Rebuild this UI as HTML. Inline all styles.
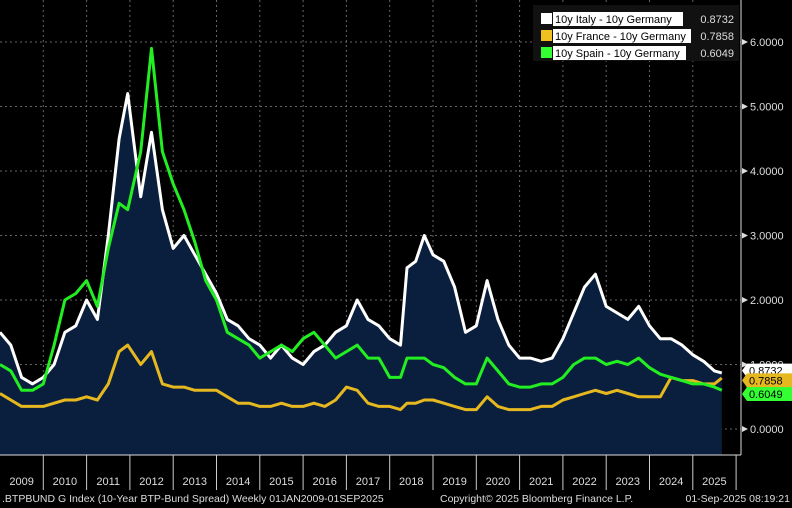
<!DOCTYPE html>
<html><head><meta charset="utf-8"><style>
body{margin:0;background:#000;}
svg{display:block;font-family:"Liberation Sans",sans-serif;}
</style></head><body>
<svg id="chart" width="792" height="508" viewBox="0 0 792 508">
<rect width="792" height="508" fill="#000"/>
<g id="grid"></g>
<g id="series"></g>
<g id="axes"></g>
<g id="legend">
<rect x="533" y="5" width="206" height="56" fill="#111"/>
<g><rect x="541" y="13" width="11" height="11" fill="#fff"/><rect x="553" y="12" width="130" height="14" fill="#fff"/><text x="555" y="23" font-size="11" fill="#000">10y Italy - 10y Germany</text><text x="734" y="23" font-size="11" fill="#ddd" text-anchor="end">0.8732</text></g>
<g><rect x="541" y="30" width="11" height="11" fill="#f0c020"/><rect x="553" y="29" width="138" height="14" fill="#fff"/><text x="555" y="40" font-size="11" fill="#000">10y France - 10y Germany</text><text x="734" y="40" font-size="11" fill="#ddd" text-anchor="end">0.7858</text></g>
<g><rect x="541" y="47" width="11" height="11" fill="#3f3"/><rect x="553" y="46" width="133" height="14" fill="#fff"/><text x="555" y="57" font-size="11" fill="#000">10y Spain - 10y Germany</text><text x="734" y="57" font-size="11" fill="#ddd" text-anchor="end">0.6049</text></g>
</g>
<text x="2" y="502" font-size="10.5" fill="#ddd">.BTPBUND G Index (10-Year BTP-Bund Spread)  Weekly 01JAN2009-01SEP2025</text>
<text x="440" y="502" font-size="10.5" fill="#ddd">Copyright© 2025 Bloomberg Finance L.P.</text>
<text x="790" y="502" font-size="10.5" fill="#ddd" text-anchor="end">01-Sep-2025 08:19:21</text>
</svg>
<script>
const dates=[2009,2009.25,2009.5,2009.75,2010,2010.25,2010.5,2010.75,2011,2011.25,2011.5,2011.75,2011.95,2012.25,2012.5,2012.75,2013,2013.25,2013.5,2013.75,2014,2014.25,2014.5,2014.75,2015,2015.25,2015.5,2015.75,2016,2016.25,2016.5,2016.75,2017,2017.25,2017.5,2017.75,2018,2018.25,2018.4,2018.6,2018.8,2019,2019.25,2019.5,2019.75,2020,2020.25,2020.5,2020.75,2021,2021.25,2021.5,2021.75,2022,2022.25,2022.5,2022.75,2023,2023.25,2023.5,2023.75,2024,2024.25,2024.5,2024.75,2025,2025.25,2025.5,2025.67];
const italy=[1.5,1.3,0.8,0.7,0.8,1.0,1.5,1.6,2.0,1.7,3.0,4.5,5.2,3.6,4.6,3.4,2.8,3.0,2.7,2.4,2.1,1.7,1.6,1.4,1.3,1.1,1.3,1.1,1.0,1.2,1.3,1.5,1.6,2.0,1.7,1.6,1.4,1.3,2.5,2.6,3.0,2.7,2.6,2.2,1.5,1.6,2.3,1.7,1.3,1.1,1.1,1.05,1.1,1.4,1.8,2.2,2.4,1.9,1.8,1.7,1.9,1.6,1.4,1.4,1.3,1.15,1.05,0.9,0.87];
const france=[0.55,0.45,0.35,0.35,0.35,0.4,0.45,0.45,0.5,0.45,0.7,1.2,1.3,1.0,1.2,0.7,0.65,0.65,0.6,0.6,0.6,0.5,0.4,0.4,0.35,0.35,0.4,0.35,0.35,0.4,0.35,0.45,0.65,0.6,0.4,0.35,0.35,0.3,0.4,0.4,0.45,0.45,0.4,0.35,0.3,0.3,0.5,0.35,0.3,0.3,0.3,0.35,0.35,0.45,0.5,0.55,0.6,0.55,0.6,0.55,0.5,0.5,0.5,0.8,0.75,0.75,0.7,0.7,0.79];
const spain=[1.0,0.9,0.6,0.6,0.7,1.3,2.0,2.1,2.3,1.9,2.8,3.5,3.4,4.3,5.9,4.3,3.8,3.4,2.9,2.3,2.0,1.5,1.4,1.3,1.1,1.2,1.3,1.2,1.4,1.5,1.3,1.1,1.2,1.3,1.1,1.1,0.8,0.8,1.1,1.1,1.1,1.0,0.95,0.8,0.7,0.7,1.1,0.9,0.7,0.65,0.65,0.7,0.7,0.8,1.0,1.1,1.1,1.0,1.05,1.0,1.1,0.95,0.85,0.8,0.75,0.7,0.7,0.65,0.6];
const yTicks=[0,1,2,3,4,5,6];
const yTickLabels=["0.0000","1.0000","2.0000","3.0000","4.0000","5.0000","6.0000"];
const years=[2009,2010,2011,2012,2013,2014,2015,2016,2017,2018,2019,2020,2021,2022,2023,2024,2025];
const lastVals=[0.8732,0.7858,0.6049];
const NS='http://www.w3.org/2000/svg';
const X=t=>(t-2009)*43.3;
const Y=v=>429-v*64.5;
const PB=455, PR=741;
function mk(tag,attrs,parent){const e=document.createElementNS(NS,tag);for(const k in attrs)e.setAttribute(k,attrs[k]);parent.appendChild(e);return e;}
const grid=document.getElementById('grid'),ser=document.getElementById('series'),ax=document.getElementById('axes');
yTicks.forEach(v=>{const l=mk('line',{x1:0,x2:PR,y1:Y(v),y2:Y(v),stroke:'#666','stroke-dasharray':'2,3','stroke-width':1},grid);

});
years.slice(1).forEach(y=>{const l=mk('line',{x1:X(y),x2:X(y),y1:0,y2:PB,stroke:'#666','stroke-dasharray':'2,3','stroke-width':1},grid);

});
const pts=a=>a.map((v,i)=>X(dates[i]).toFixed(1)+','+Y(v).toFixed(1)).join(' ');
const last=X(dates[dates.length-1]);
const area=mk('polygon',{points:X(dates[0])+','+PB+' '+pts(italy)+' '+last+','+PB,fill:'#0a1f3d'},ser);


[[italy,'#ffffff','italy-line'],[france,'#e6b820','france-line'],[spain,'#22ee22','spain-line']].forEach(s=>{
const p=mk('polyline',{points:pts(s[0]),fill:'none',stroke:s[1],'stroke-width':3,'stroke-linejoin':'round'},ser);

});
mk('line',{x1:PR,x2:PR,y1:0,y2:PB,stroke:'#ddd','stroke-width':1},ax);
mk('line',{x1:0,x2:PR,y1:PB,y2:PB,stroke:'#ddd','stroke-width':1},ax);
yTicks.forEach((v,i)=>{
mk('path',{d:`M${PR+1},${Y(v)-3}L${PR+7},${Y(v)}L${PR+1},${Y(v)+3}Z`,fill:'#ddd'},ax);
const t=mk('text',{x:PR+9,y:Y(v)+4,'font-size':11,fill:'#ddd'},ax);t.textContent=yTickLabels[i];

});
years.forEach((y,i)=>{
if(i>0){mk('line',{x1:X(y),x2:X(y),y1:PB,y2:490,stroke:'#ccc','stroke-width':1},ax);}
const t=mk('text',{x:X(y)+21.6,y:485,'font-size':11,fill:'#ddd','text-anchor':'middle'},ax);t.textContent=y;

});
mk('line',{x1:X(2026),x2:X(2026),y1:PB,y2:490,stroke:'#ccc','stroke-width':1},ax);
const tagCols=['#ffffff','#e6b820','#33ff33'];
const tagY=[Y(lastVals[0])-2,Y(lastVals[1])+2,Y(lastVals[2])+4];
[0,1,2].forEach(i=>{
const yy=tagY[i];
const g=mk('g',{},ax);


mk('path',{d:`M${PR+1},${yy}L${PR+6},${yy-7}L792,${yy-7}L792,${yy+7}L${PR+6},${yy+7}Z`,fill:tagCols[i]},g);
const t=mk('text',{x:PR+8,y:yy+4,'font-size':11,fill:'#000'},g);t.textContent=lastVals[i].toFixed(4);});
</script>
</body></html>
